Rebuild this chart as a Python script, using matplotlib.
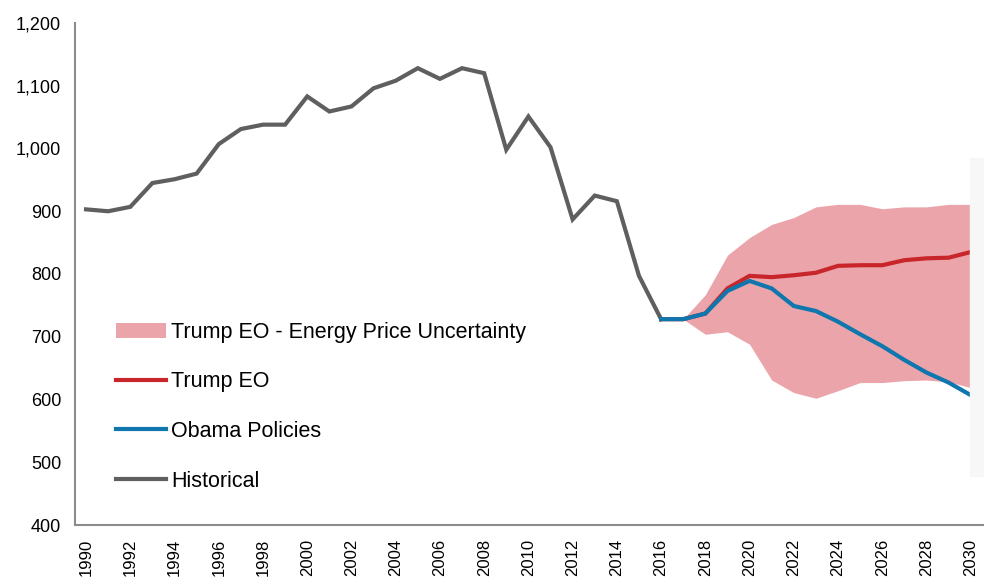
import matplotlib
matplotlib.use("Agg")
import matplotlib.pyplot as plt
from matplotlib.patches import Rectangle

years_hist = list(range(1990, 2017))
historical = [903, 900, 907, 945, 951, 960, 1007, 1031, 1038, 1038, 1083, 1059,
              1067, 1096, 1108, 1128, 1111, 1128, 1120, 998, 1051, 1002, 887,
              925, 916, 797, 728]

years_proj = list(range(2016, 2031))
trump_eo = [728, 728, 737, 777, 797, 795, 798, 802, 813, 814, 814, 822, 825, 826, 835]
obama = [728, 728, 737, 773, 789, 777, 749, 741, 724, 704, 685, 663, 643, 627, 607]

years_band = list(range(2017, 2031))
band_upper = [728, 767, 830, 858, 879, 890, 907, 911, 911, 904, 907, 907, 911, 911]
band_lower = [728, 704, 708, 688, 631, 611, 602, 614, 627, 627, 630, 631, 628, 619]

xticks = list(range(1990, 2031, 2))
yticks = list(range(400, 1201, 100))

plt.rcParams['font.family'] = ['Liberation Sans', 'DejaVu Sans']

fig = plt.figure(figsize=(9.84, 5.79), dpi=100)
ax = fig.add_axes([75/984, 54/579, 909/984, 502/579])

c_hist = '#5f5f5f'
c_red = '#c8262a'
c_blue = '#0f77ae'
c_band = '#eba5aa'
lw = 3.0

ax.fill_between(years_band, band_lower, band_upper, color=c_band, linewidth=0,
                label='Trump EO - Energy Price Uncertainty', zorder=1)
ax.plot(years_proj, trump_eo, color=c_red, lw=lw, label='Trump EO', zorder=3,
        solid_joinstyle='miter')
ax.plot(years_proj, obama, color=c_blue, lw=lw, label='Obama Policies', zorder=4,
        solid_joinstyle='miter')
ax.plot(years_hist, historical, color=c_hist, lw=lw, label='Historical', zorder=2,
        solid_joinstyle='miter')

ax.set_xlim(1989.5, 2030.6)
ax.set_ylim(400, 1200)
ax.set_xticks(xticks)
ax.set_xticklabels([str(x) for x in xticks], rotation=90, fontsize=12)
ax.set_yticks(yticks)
ax.set_yticklabels([f"{y:,}" for y in yticks], fontsize=13)
ax.tick_params(axis='both', length=0)
ax.tick_params(axis='y', pad=10)
ax.tick_params(axis='x', pad=10)

for s in ['top', 'right']:
    ax.spines[s].set_visible(False)
for s in ['left', 'bottom']:
    ax.spines[s].set_color('#8c8c8c')
    ax.spines[s].set_linewidth(1.5)

leg = ax.legend(loc='upper left', bbox_to_anchor=(0.0355, 0.422), frameon=False,
                fontsize=15.5, handlelength=2.33, handletextpad=0.23,
                labelspacing=1.33, borderaxespad=0)

fig.patches.append(Rectangle((970/984, (579-476)/579), 14/984, 318/579,
                             transform=fig.transFigure, color='#f7f7f7',
                             zorder=10))

fig.savefig('out.png', dpi=100)
